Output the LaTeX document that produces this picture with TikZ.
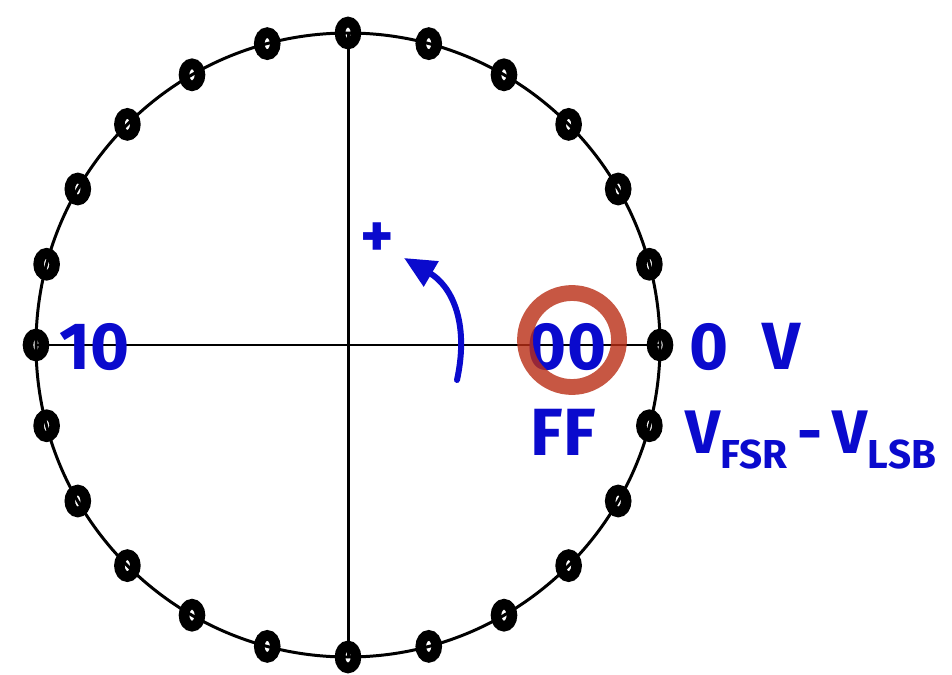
\documentclass[tikz,border=0pt]{standalone}
\usepackage{fontspec}
\setmainfont{Fira Sans}
\usetikzlibrary{arrows.meta, calc}
\definecolor{penblue}{RGB}{10,10,205}
\definecolor{penred}{RGB}{185,45,20}
\newcommand{\lowsub}[1]{\raisebox{-0.45ex}{\fontsize{23}{25}\selectfont #1}}

\begin{document}
\begin{tikzpicture}[
        x=0.02cm, y=-0.02cm,
        axis/.style={line width=1.7pt, black},
        blob/.style={line width=6pt, black},
        bluetext/.style={text=penblue, font=\fontsize{38}{42}\selectfont\bfseries, inner sep=0pt},
        pen/.style={line width=3.4pt, penblue, line cap=round}
    ]
    \useasboundingbox (0,0) rectangle (952,675);

    % wheel and axes
    \coordinate (c) at (348,345);
    \draw[axis] (c) circle[radius=312];
    \draw[axis] (348,33) -- (348,657);
    \draw[axis] (36,345) -- (660,345);

    % code points on the wheel
    \foreach \a in {0,15,...,345}
        \draw[blob] ($(c)+(\a:312)$) ellipse[x radius=8, y radius=11];

    % labels
    \node[bluetext] (ten) at (95,347) {10};
    \node[bluetext] (zero) at (567,347) {00};
    \draw[line width=9pt, penred, opacity=0.8] (572,340) circle[radius=47];
    \node[bluetext] (ff) at (563,432) {FF};
    \node[bluetext] (zerov) at (745,347) {0\hspace{0.5em}V};
    \node[bluetext, anchor=west, font=\fontsize{35}{38}\selectfont\bfseries] (vrange) at (685,440) {V\lowsub{FSR}\,-\,V\lowsub{LSB}};
    \node[bluetext, font=\fontsize{36}{38}\selectfont\bfseries] (plus) at (377,240) {+};

    % direction of increasing code
    \coordinate (tail) at (457,380);
    \coordinate (tip) at (404,258);
    \draw[pen, -{Triangle[length=18pt, width=16pt]}] (tail) .. controls (470,320) and (450,285) .. (tip);
\end{tikzpicture}
\end{document}
